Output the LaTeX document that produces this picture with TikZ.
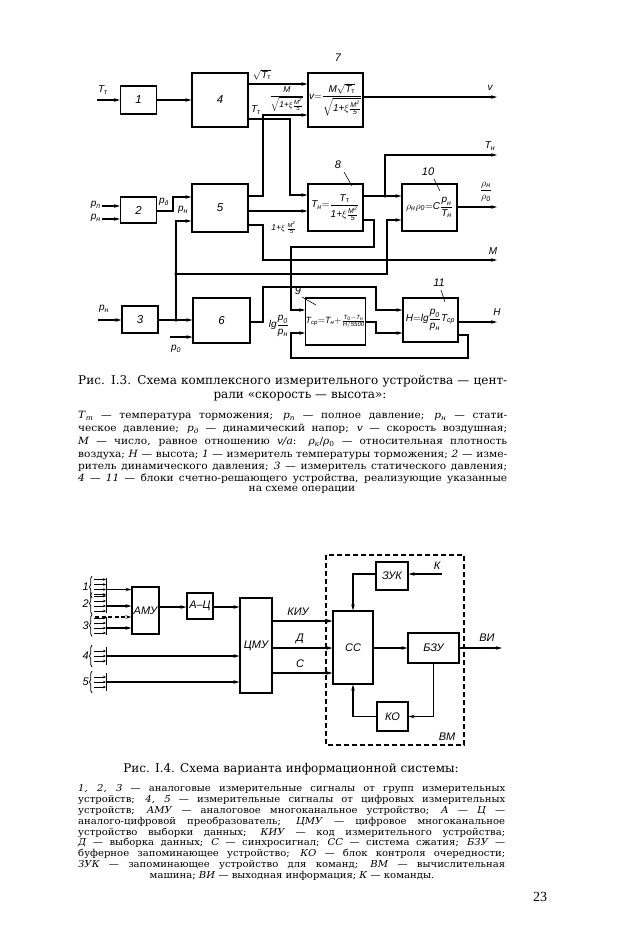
\documentclass[tikz,border=0pt]{standalone}
\usepackage{amsmath}
\usepackage{fontspec}
\setmainfont{Liberation Serif}
\newfontfamily\dia{Liberation Sans}
\newfontfamily\lgf{DejaVu Serif}
\newfontfamily\lgw[FakeStretch=1.06]{DejaVu Serif}
\usetikzlibrary{arrows.meta,decorations.pathreplacing,calc}
\newcommand\dv[1]{\text{\dia\itshape #1}}
\newcommand\dvu[1]{\text{\dia\upshape #1}}
\newcommand\qTT{\dv{T}_{\dvu{т}}}
\newcommand\qTH{\dv{T}_{\dv{н}}}
\newcommand\qpH{\dv{p}_{\dv{н}}}
\newcommand\qpO{\dv{p}_{\dv{0}}}
\newcommand\qMf{\tfrac{\dv{M}^{\dv{2}}}{\dv{5}}}
\newcommand\lsub[2]{\textit{#1}\textsubscript{\textit{#2}}}
\tikzset{
  blk/.style={draw, line width=1.1pt, inner sep=0pt, font=\dia\itshape\fontsize{11.5}{12}\selectfont},
  fblk/.style={blk, font=\dia\itshape\fontsize{10}{11}\selectfont},
  wire/.style={line width=1.2pt},
  arr/.style={wire, -{Stealth[length=6pt,width=3.5pt]}},
  lab/.style={font=\dia\itshape\fontsize{10}{11}\selectfont, inner sep=0pt},
  slab/.style={font=\dia\itshape\fontsize{8.5}{10}\selectfont, inner sep=0pt},
  num/.style={font=\dia\itshape\fontsize{11}{12}\selectfont, inner sep=0pt},
  dot/.style={circle, fill, inner sep=0pt, minimum size=3.5pt},
  leader/.style={line width=0.6pt},
  capt/.style={font=\lgf\fontsize{12}{14}\selectfont, inner sep=0pt},
  legA/.style={font=\lgw\fontsize{10}{12}\selectfont, inner sep=0pt, anchor=west},
  legB/.style={font=\lgw\fontsize{9.5}{11}\selectfont, inner sep=0pt, anchor=west},
}
\newcommand\grp[3]{%
  \node[num, anchor=east] at (89,#1) {#2};
  \draw[line width=0.8pt, decorate, decoration={brace, amplitude=2.5pt}] (92,{#1+11}) -- (92,{#1-11});
  \foreach \o in {#3} {\draw[line width=0.7pt, -{Stealth[length=3pt,width=2.6pt]}] (94,{#1+\o}) -- (106,{#1+\o});}
  \draw[line width=0.9pt] (106,{#1-9}) -- (106,{#1+9});
}
\begin{document}
\begin{tikzpicture}[x=1pt,y=-1pt]
\useasboundingbox (0,0) rectangle (622,950);
\fill[white] (0,0) rectangle (622,950);

% ---------------- Fig. I.3 ----------------
\node[blk, minimum width=36pt, minimum height=28pt] (b1) at (138.5,100) {1};
\node[blk, minimum width=56pt, minimum height=54pt] (b4) at (220,100) {4};
\node[fblk, minimum width=55pt, minimum height=54pt] (b7) at (335.5,100)
  {$\dv{v}{=}\dfrac{\dv{M}\sqrt{\qTT}}{\sqrt{\dv{1+}\xi\qMf}}$};
\node[blk, minimum width=36pt, minimum height=26pt] (b2) at (138.5,210) {2};
\node[blk, minimum width=56pt, minimum height=48pt] (b5) at (220,208) {5};
\node[fblk, minimum width=55pt, minimum height=47pt] (b8) at (335.5,207.5)
  {$\qTH{=}\dfrac{\qTT}{\dv{1+}\xi\qMf}$};
\node[fblk, minimum width=55pt, minimum height=47pt] (b10) at (429.5,207.5)
  {$\rho_{\dv{н}}\rho_{\dv{0}}{=}\dv{C}\dfrac{\qpH}{\qTH}$};
\node[blk, minimum width=36pt, minimum height=27pt] (b3) at (140,319.5) {3};
\node[blk, minimum width=57pt, minimum height=45pt] (b6) at (221.5,320.5) {6};
\node[fblk, font=\dia\itshape\fontsize{9}{10}\selectfont, minimum width=55pt, minimum height=47pt] (b9) at (335.5,321.5)
  {$\dv{T}_{\dv{ср}}{=}\qTH{+}\frac{\dv{T}_{\dv{0}}{-}\qTH}{\dv{H}/\dv{5500}}$};
\node[fblk, minimum width=55pt, minimum height=44pt] (b11) at (430.5,320)
  {$\dv{H}{=}\dv{lg}\dfrac{\qpO}{\qpH}\dv{T}_{\dv{ср}}$};

% numbers with leaders
\node[num] (n7) at (338,58) {7};
\node[num] (n8) at (338,165) {8};
\draw[leader] (344,172) -- (352,186);
\node[num] (n10) at (428,172) {10};
\draw[leader] (434,179) -- (440,191);
\node[num] (n9) at (298,291) {9};
\draw[leader] (302,297) -- (316,305);
\node[num] (n11) at (439,283) {11};
\draw[leader] (441,290) -- (445,302);

% coordinates of free ends
\coordinate (inTT) at (97,100);
\coordinate (inPP) at (102,206);
\coordinate (inPH) at (102,219);
\coordinate (inPH3) at (98,320);
\coordinate (inP0) at (170,337);
\coordinate (outV) at (497,97);
\coordinate (outTH) at (497,155);
\coordinate (outRho) at (497,207);
\coordinate (outM) at (497,260);
\coordinate (outH) at (497,322);
\coordinate (j1) at (176,274);
\coordinate (j2) at (176,320);
\coordinate (j3) at (385,196);

% wires
\draw[arr] (inTT) -- (b1);
\draw[arr] (b1) -- (b4);
\draw[arr] (b4.east |- 0,84) -- (b7.west |- 0,84);
\draw[arr] (b5.east |- 0,196) -| (263,115) -- (b7.west |- 0,115);
\draw[arr] (b4.east |- 0,119) -| (290,195) -- (b8.west |- 0,195);
\draw[arr] (b7.east |- outV) -- (outV);
\draw[arr] (inPP) -- (b2.west |- inPP);
\draw[arr] (inPH) -- (b2.west |- inPH);
\draw[arr] (b2.east |- 0,211) -| (173,197) -- (b5.west |- 0,197);
\draw[arr] (j1) |- (b5.west |- 0,221);
\draw[arr] (b5.east |- 0,211) -- (b8.west |- 0,211);
\draw[arr] (b5.east |- 0,225) -| (263,260) -- (outM);
\draw[arr] (b8.east |- 0,196) -- (b10.west |- 0,196);
\draw[arr] (j3) |- (outTH);
\draw[arr] (b8.east |- 0,220) -| (374,247) -| (291,310) -- (b9.west |- 0,310);
\draw[arr] (b10.east |- outRho) -- (outRho);
\draw[arr] (j1) -| (387,220) -- (b10.west |- 0,220);
\draw[arr] (inPH3) -- (b3.west |- inPH3);
\draw[arr] (b3.east |- j2) -- (b6.west |- j2);
\draw[wire] (j2) -- (j1);
\draw[arr] (inP0) -- (b6.west |- inP0);
\draw[arr] (b6.east |- 0,322) -| (263,287) -| (376,310) -- (b11.west |- 0,310);
\draw[arr] (b9.east |- 0,322) -| (376,333) -- (b11.west |- 0,333);
\draw[arr] (b11.east |- outH) -- (outH);
\draw[arr] (b11.east |- 0,335) -| (468,358) -| (291,333) -- (b9.west |- 0,333);
\node[dot] at (j1) {};
\node[dot] at (j2) {};
\node[dot] at (j3) {};

% labels
\node[lab] at (103,90) {$\qTT$};
\node[lab] at (262,75) {$\sqrt{\qTT}$};
\node[slab] at (287,99) {$\dfrac{\dv{M}}{\sqrt{\dv{1+}\xi\qMf}}$};
\node[lab] at (256,110) {$\qTT$};
\node[lab] at (490,88) {$\dv{v}$};
\node[lab] at (490,146) {$\qTH$};
\node[lab] at (486,192) {$\dfrac{\rho_{\dv{н}}}{\rho_{\dv{0}}}$};
\node[lab] at (493,251) {$\dv{M}$};
\node[lab] at (497,312) {$\dv{H}$};
\node[lab, anchor=east] at (101,205) {$\dv{p}_{\dv{п}}$};
\node[lab, anchor=east] at (101,218) {$\qpH$};
\node[lab] at (164,202) {$\dv{p}_{\dv{д}}$};
\node[lab] at (183,210) {$\qpH$};
\node[slab] at (284,228) {$\dv{1+}\xi\,\qMf$};
\node[lab] at (104,309) {$\qpH$};
\node[lab] at (176,349) {$\qpO$};
\node[lab] at (279,326) {$\dv{lg}\dfrac{\qpO}{\qpH}$};

% caption I.3
\node[capt, anchor=west] at (78,381) {\makebox[429pt][s]{Рис. I.3. Схема комплексного измерительного устройства — цент-}};
\node[capt] at (300,397) {рали «скорость — высота»:};
\node[legA] at (78,416) {\makebox[429pt][s]{\lsub{T}{т} — температура торможения; \lsub{p}{п} — полное давление; \lsub{p}{н} — стати-}};
\node[legA] at (78,429) {\makebox[429pt][s]{ческое давление; \lsub{p}{д} — динамический напор; \textit{v} — скорость воздушная;}};
\node[legA] at (78,442) {\makebox[429pt][s]{\textit{M} — число, равное отношению \textit{v/a}: \lsub{ρ}{к}/\textit{ρ}\textsubscript{0} — относительная плотность}};
\node[legA] at (78,455) {\makebox[429pt][s]{воздуха; \textit{H} — высота; \textit{1} — измеритель температуры торможения; \textit{2} — изме-}};
\node[legA] at (78,467) {\makebox[429pt][s]{ритель динамического давления; \textit{3} — измеритель статического давления;}};
\node[legA] at (78,479) {\makebox[429pt][s]{\textit{4 — 11} — блоки счетно-решающего устройства, реализующие указанные}};
\node[legA, anchor=center] at (302,490) {на схеме операции};

% ---------------- Fig. I.4 ----------------
\draw[line width=1.1pt, dash pattern=on 5pt off 3pt] (326,555) rectangle (464,745);
\tikzset{blk4/.style={blk, font=\dia\itshape\fontsize{11}{12}\selectfont}}
\node[blk4, minimum width=32pt, minimum height=28pt] (zuk) at (392,576) {ЗУК};
\node[blk4, minimum width=40pt, minimum height=73pt] (cc) at (353,647.5) {СС};
\node[blk4, minimum width=51pt, minimum height=30pt] (bzu) at (433.5,648) {БЗУ};
\node[blk4, minimum width=31pt, minimum height=29pt] (ko) at (392.5,716.5) {КО};
\node[blk4, minimum width=32pt, minimum height=95pt] (cmu) at (256,645.5) {ЦМУ};
\node[blk4, minimum width=27pt, minimum height=47pt] (amu) at (145.5,610.5) {АМУ};
\node[blk4, minimum width=26pt, minimum height=26pt] (ac) at (200,606) {А–Ц};

\grp{587}{1}{-7.5,-2.5,2.5,7.5}
\grp{603.5}{2}{-7.5,-2.5,2.5,7.5}
\grp{625.5}{3}{-7.5,-2.5,2.5,7.5}
\grp{656}{4}{-5,0,5}
\grp{682}{5}{-5,0,5}

\coordinate (g1) at (106,589.5);
\coordinate (g2) at (106,606);
\coordinate (gd) at (95,617);
\coordinate (g3) at (106,628);
\coordinate (g4) at (106,656);
\coordinate (g5) at (106,682);
\coordinate (inK) at (442,574);
\coordinate (outVI) at (502,648);

\draw[arr] (g1) -- (amu.west |- g1);
\draw[arr] (g2) -- (amu.west |- g2);
\draw[arr, dash pattern=on 4pt off 2.5pt] (gd) -- (amu.west |- gd);
\draw[arr] (g3) -- (amu.west |- g3);
\draw[arr] (g4) -- (cmu.west |- g4);
\draw[arr] (g5) -- (cmu.west |- g5);
\draw[arr] (amu.east |- 0,607) -- (ac.west |- 0,607);
\draw[arr] (ac.east |- 0,607) -- (cmu.west |- 0,607);
\draw[arr] (cmu.east |- 0,621) -- (cc.west |- 0,621);
\draw[arr] (cmu.east |- 0,648) -- (cc.west |- 0,648);
\draw[arr] (cmu.east |- 0,673) -- (cc.west |- 0,673);
\draw[arr] (cc.east |- 0,648) -- (bzu.west |- 0,648);
\draw[arr] (bzu.east |- outVI) -- (outVI);
\draw[arr] (inK) -- (zuk.east |- inK);
\draw[arr] (zuk.west |- inK) -| (cc.north);
\draw[arr] (bzu.south) |- (ko.east);
\draw[arr] (ko.west) -| (cc.south);

\node[num] at (298,612) {КИУ};
\node[num] at (300,639) {Д};
\node[num] at (300,664) {С};
\node[num] at (487,638) {ВИ};
\node[num] at (437,566) {К};
\node[num] at (447,737) {ВМ};

% caption I.4
\node[capt] at (291,769) {Рис. I.4. Схема варианта информационной системы:};
\node[legB] at (78,789) {\makebox[427pt][s]{\textit{1, 2, 3} — аналоговые измерительные сигналы от групп измерительных}};
\node[legB] at (78,800) {\makebox[427pt][s]{устройств; \textit{4, 5} — измерительные сигналы от цифровых измерительных}};
\node[legB] at (78,811) {\makebox[427pt][s]{устройств; \textit{АМУ} — аналоговое многоканальное устройство; \textit{А — Ц} —}};
\node[legB] at (78,822) {\makebox[427pt][s]{аналого-цифровой преобразователь; \textit{ЦМУ} — цифровое многоканальное}};
\node[legB] at (78,833) {\makebox[427pt][s]{устройство выборки данных; \textit{КИУ} — код измерительного устройства;}};
\node[legB] at (78,843) {\makebox[427pt][s]{\textit{Д} — выборка данных; \textit{С} — синхросигнал; \textit{СС} — система сжатия; \textit{БЗУ} —}};
\node[legB] at (78,854) {\makebox[427pt][s]{буферное запоминающее устройство; \textit{КО} — блок контроля очередности;}};
\node[legB] at (78,865) {\makebox[427pt][s]{\textit{ЗУК} — запоминающее устройство для команд; \textit{ВМ} — вычислительная}};
\node[legB, anchor=center] at (292,876) {машина; \textit{ВИ} — выходная информация; \textit{К} — команды.};

\node[font=\fontsize{14}{16}\selectfont, inner sep=0pt] at (540,897) {23};
\end{tikzpicture}
\end{document}
